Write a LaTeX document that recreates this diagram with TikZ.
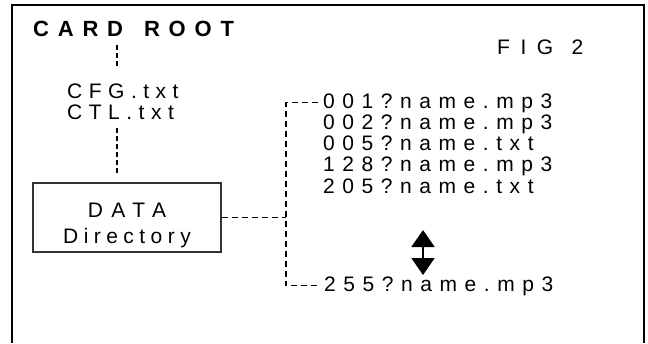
\documentclass[tikz,border=0pt]{standalone}
\usepackage{fontspec}
\setmainfont{Liberation Sans}
\usetikzlibrary{arrows.meta}

\tikzset{
  lbl/.style={inner sep=0pt, anchor=base west,
    font=\fontsize{21}{21}\selectfont\addfontfeatures{LetterSpace=36}},
  dotline/.style={line width=2.4pt, dash pattern=on 5pt off 3pt},
  dashline/.style={line width=1.2pt, dash pattern=on 6pt off 4pt},
  dirbox/.style={draw=black!80, line width=1.3pt, minimum width=188pt,
    minimum height=69pt, inner sep=0pt, align=center}
  ,dblarrow/.style={line width=1.8pt,
    {Triangle[width=23pt,length=17pt]}-{Triangle[width=23pt,length=17pt]}}
}

\begin{document}
\begin{tikzpicture}[x=1pt, y=-1pt]

  \useasboundingbox (0,0) rectangle (648,343);

  \newcommand\Dy{21.25}

  % frame, open at the bottom
  \draw[line width=1.8pt] (12,343) |- (644,5) -- (644,343);

  \node[lbl, font=\fontsize{22}{24}\selectfont\bfseries\addfontfeatures{LetterSpace=40}]
    (cardroot) at (33,36) {CARD\hspace{6pt} ROOT};
  \node[lbl, font=\fontsize{21}{24}\selectfont\addfontfeatures{LetterSpace=50}]
    (fig) at (497,54) {FIG\hspace{2pt} 2};

  \node[lbl, font=\fontsize{21}{21}\selectfont\addfontfeatures{LetterSpace=31}]
    (cfg) at (67,98) {CFG.txt};
  \node[lbl, font=\fontsize{21}{21}\selectfont\addfontfeatures{LetterSpace=31}]
    (ctl) at (67,119) {CTL.txt};

  \node[dirbox] (datadir) at (127,217.5) {};
  \node[font=\fontsize{21}{21}\selectfont\addfontfeatures{LetterSpace=40}, inner sep=0pt,
    anchor=base] (data) at (datadir.center |- 0,217) {DATA};
  \node[font=\fontsize{21}{21}\selectfont\addfontfeatures{LetterSpace=26}, inner sep=0pt,
    anchor=base] (dir) at (datadir.center |- 0,243) {Directory};

  \node[lbl] (f001) at (323,108+0*\Dy) {001?name.mp3};
  \node[lbl] (f002) at (323,108+1*\Dy) {002?name.mp3};
  \node[lbl] (f005) at (323,108+2*\Dy) {005?name.txt};
  \node[lbl] (f128) at (323,108+3*\Dy) {128?name.mp3};
  \node[lbl] (f205) at (323,108+4*\Dy) {205?name.txt};
  \node[lbl] (f255) at (324,291) {255?name.mp3};

  \coordinate (stem) at (117,0);
  \coordinate (elbow) at (286,0);
  \coordinate (up) at (423,230);
  \coordinate (down) at (423,275);

  % tree lines
  \draw[dotline] (stem |- 0,45) -- (stem |- 0,68);
  \draw[dotline] (stem |- 0,128) -- (stem |- 0,173);

  \draw[dashline] (datadir.east) -- (elbow |- datadir.east);
  \draw[dashline] ([xshift=-5pt]f001.west) -| (elbow |- f255.west)
    -- ([xshift=-5pt]f255.west);

  \draw[dblarrow] (up) -- (down);

\end{tikzpicture}
\end{document}
